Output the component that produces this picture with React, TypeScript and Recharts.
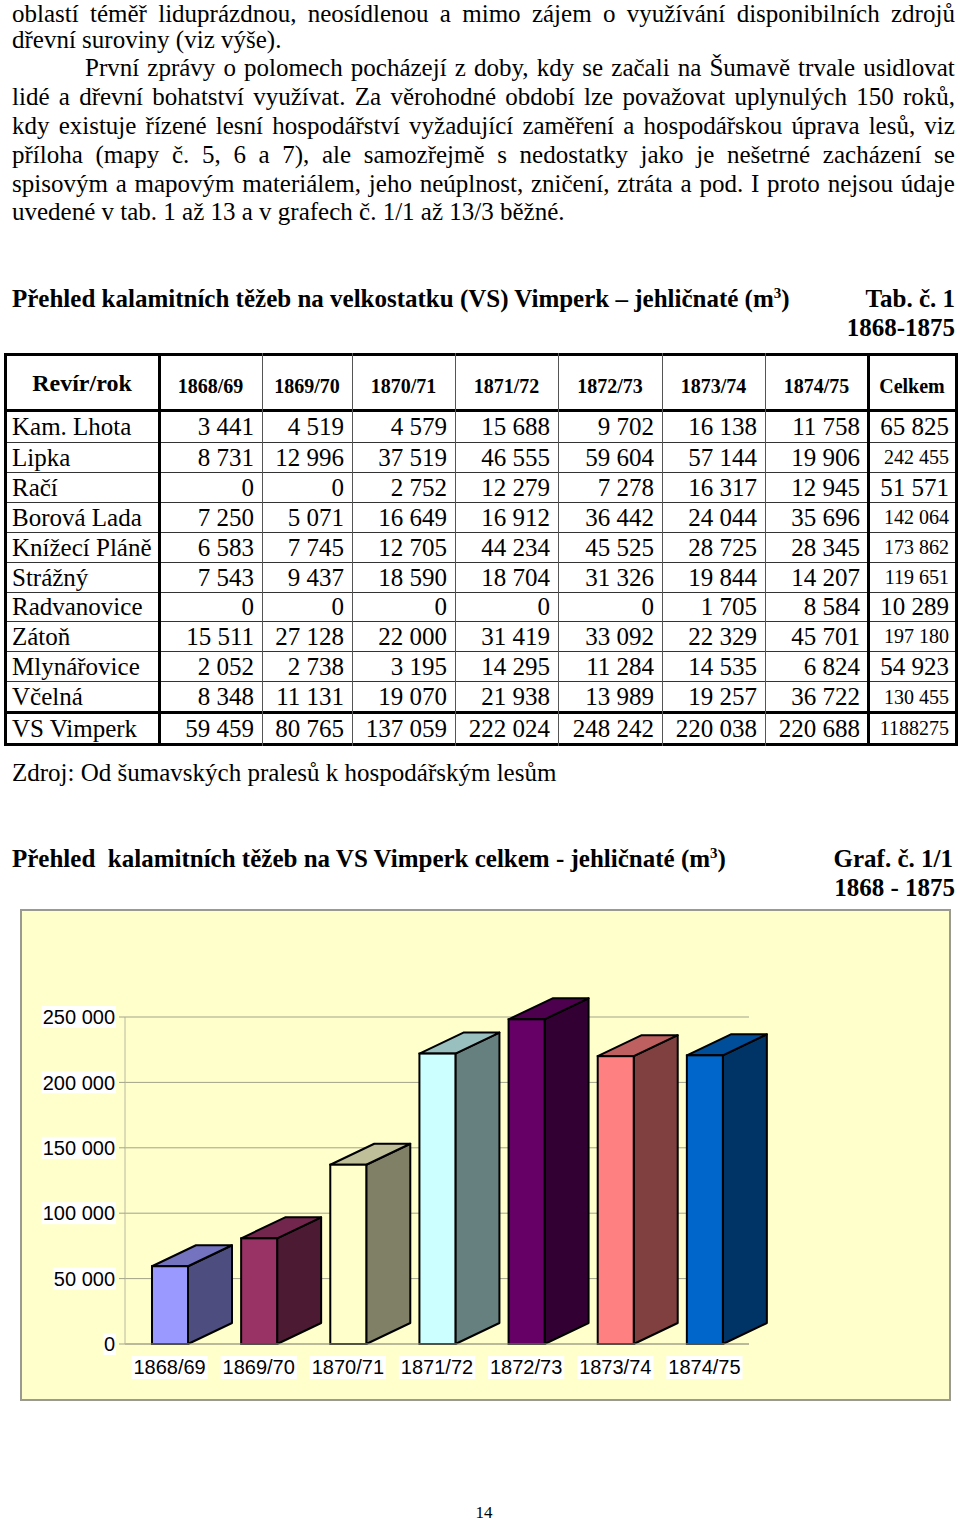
import React from 'react';
import { BarChart, Bar, XAxis, YAxis, CartesianGrid } from 'recharts';

// ---------- chart data ----------
const years = ['1868/69', '1869/70', '1870/71', '1871/72', '1872/73', '1873/74', '1874/75'];
const totals = [59459, 80765, 137059, 222024, 248242, 220038, 220688];
const yTicks = [0, 50000, 100000, 150000, 200000, 250000];
const frontColors = ['#9999FF', '#993366', '#FFFFCC', '#CCFFFF', '#660066', '#FF8080', '#0066CC'];
const sideColors = ['#4D4D80', '#4D1A33', '#808066', '#668080', '#330033', '#804040', '#003366'];
const topColors = ['#7373BF', '#73264D', '#BFBF99', '#99BFBF', '#4D004D', '#BF6060', '#004D99'];

// ---------- table data ----------
const revirs = ['Kam. Lhota', 'Lipka', 'Račí', 'Borová Lada', 'Knížecí Pláně', 'Strážný', 'Radvanovice', 'Zátoň', 'Mlynářovice', 'Včelná'];
const kamLhota = [3441, 4519, 4579, 15688, 9702, 16138, 11758];
const lipka = [8731, 12996, 37519, 46555, 59604, 57144, 19906];
const raci = [0, 0, 2752, 12279, 7278, 16317, 12945];
const borovaLada = [7250, 5071, 16649, 16912, 36442, 24044, 35696];
const knizeciPlane = [6583, 7745, 12705, 44234, 45525, 28725, 28345];
const strazny = [7543, 9437, 18590, 18704, 31326, 19844, 14207];
const radvanovice = [0, 0, 0, 0, 0, 1705, 8584];
const zaton = [15511, 27128, 22000, 31419, 33092, 22329, 45701];
const mlynarovice = [2052, 2738, 3195, 14295, 11284, 14535, 6824];
const vcelna = [8348, 11131, 19070, 21938, 13989, 19257, 36722];
const rowValues = [kamLhota, lipka, raci, borovaLada, knizeciPlane, strazny, radvanovice, zaton, mlynarovice, vcelna];
const celkem = [65825, 242455, 51571, 142064, 173862, 119651, 10289, 197180, 54923, 130455];
const celkemSmall = [false, true, false, true, true, true, false, true, false, true];
const celkemTotal = '1188275';
const totalLabel = 'VS Vimperk';

const paragraphLines = [
  'oblastí téměř liduprázdnou, neosídlenou a mimo zájem o využívání disponibilních zdrojů',
  'dřevní suroviny (viz výše).',
  'První zprávy o polomech pocházejí z doby, kdy se začali na Šumavě trvale usidlovat',
  'lidé a dřevní bohatství využívat. Za věrohodné období lze považovat uplynulých 150 roků,',
  'kdy existuje řízené lesní hospodářství vyžadující zaměření a hospodářskou úprava lesů, viz',
  'příloha (mapy č. 5, 6 a 7), ale samozřejmě s nedostatky jako je nešetrné zacházení se',
  'spisovým a mapovým materiálem, jeho neúplnost, zničení, ztráta a pod. I proto nejsou údaje',
  'uvedené v tab. 1 až 13 a v grafech č. 1/1 až 13/3 běžné.',
];
const lineJustified = [true, false, true, true, true, true, true, false];
const lineCenters = [14, 40, 68, 97, 126, 155, 184, 212];
const lineLefts = [12, 12, 85, 12, 12, 12, 12, 12];

const fmt = (n: number) => String(n).replace(/\B(?=(\d{3})+(?!\d))/g, ' ');

const SERIF = '"Liberation Serif", "Times New Roman", serif';
const SANS = '"Liberation Sans", Arial, sans-serif';

const TextLine = ({ text, top, left, right, justify, size = 25, bold = false }: any) => {
  const lh = 22;
  const style: React.CSSProperties = {
    position: 'absolute',
    top: top - 11,
    left,
    height: lh,
    lineHeight: lh + 'px',
    fontSize: size,
    fontFamily: SERIF,
    fontWeight: bold ? 'bold' : 'normal',
    whiteSpace: 'nowrap',
    color: '#000',
  };
  if (justify) {
    const words = text.split(' ');
    return (
      <div style={{ ...style, width: right - left, display: 'flex', justifyContent: 'space-between' }}>
        {words.map((w: string, i: number) => (
          <span key={i}>{w}</span>
        ))}
      </div>
    );
  }
  return <div style={style}>{text}</div>;
};

// ---------- table geometry ----------
const colX = [5, 159, 262, 352, 455, 558, 662, 765, 868, 956];
const rowY = [354, 410, 442, 472, 502, 532, 562, 592, 621, 651, 681, 712, 744];
const thickCols = [0, 1, 8, 9];
const thickRows = [0, 1, 11, 12];

const Table = () => {
  const els: any[] = [];
  rowY.forEach((y, i) => {
    const t = thickRows.includes(i) ? 3 : 1;
    els.push(
      <div key={'h' + i} style={{ position: 'absolute', left: colX[0] - 1, top: y - t / 2, width: colX[9] - colX[0] + 3, height: t, background: thickRows.includes(i) ? '#000' : '#333' }} />
    );
  });
  colX.forEach((x, i) => {
    const t = thickCols.includes(i) ? 3 : 1;
    els.push(
      <div key={'v' + i} style={{ position: 'absolute', left: x - t / 2, top: rowY[0] - 1, width: t, height: rowY[12] - rowY[0] + 3, background: thickCols.includes(i) ? '#000' : '#555' }} />
    );
  });
  const cell = (key: string, c: number, r: number, content: any, opts: any = {}) => {
    const x0 = colX[c], x1 = colX[c + 1];
    const y0 = rowY[r], y1 = rowY[r + 1];
    els.push(
      <div
        key={key}
        style={{
          position: 'absolute',
          left: x0 + 2,
          width: x1 - x0 - 4,
          top: y0 + (opts.dy || 0),
          height: y1 - y0,
          display: 'flex',
          alignItems: 'center',
          justifyContent: opts.align || 'flex-end',
          paddingLeft: opts.pl || 0,
          paddingRight: opts.pr ?? 6,
          boxSizing: 'border-box',
          fontFamily: SERIF,
          fontSize: opts.size || 25,
          fontWeight: opts.bold ? 'bold' : 'normal',
          whiteSpace: 'nowrap',
          lineHeight: 1,
        }}
      >
        {content}
      </div>
    );
  };
  cell('hh', 0, 0, 'Revír/rok', { align: 'center', bold: true, size: 24, pr: 0, dy: 1 });
  years.forEach((y, i) => cell('hy' + i, i + 1, 0, y, { align: 'center', bold: true, size: 20, pr: 0, dy: 4 }));
  cell('hc', 8, 0, 'Celkem', { align: 'center', bold: true, size: 20, pr: 0, dy: 4 });
  revirs.forEach((name, r) => {
    cell('n' + r, 0, r + 1, name, { align: 'flex-start', pl: 5, pr: 0 });
    rowValues[r].forEach((v, c) => cell('v' + r + '-' + c, c + 1, r + 1, fmt(v)));
    cell('c' + r, 8, r + 1, fmt(celkem[r]), { size: celkemSmall[r] ? 20 : 25, pr: 5 });
  });
  cell('tn', 0, 11, totalLabel, { align: 'flex-start', pl: 5, pr: 0 });
  totals.forEach((v, c) => cell('tv' + c, c + 1, 11, fmt(v)));
  cell('tc', 8, 11, celkemTotal, { size: 20, pr: 5 });
  return <>{els}</>;
};

// ---------- chart pieces ----------
const sansWidth = (s: string, size: number) => {
  let w = 0;
  for (const ch of s) w += ch === ' ' || ch === '/' ? 0.278 : 0.556;
  return w * size;
};

const YTick = (props: any) => {
  const { x, y, payload } = props;
  const label = fmt(payload.value);
  const w = sansWidth(label, 20) + 2;
  return (
    <g>
      <rect x={x - w + 1} y={y - 11} width={w} height={22} fill="#fff" />
      <text x={x} y={y} dy="0.36em" textAnchor="end" fontFamily={SANS} fontSize={20} fill="#000">
        {label}
      </text>
    </g>
  );
};

const XTick = (props: any) => {
  const { x, y, payload } = props;
  const label = payload.value;
  const w = sansWidth(label, 20) + 4;
  return (
    <g>
      <rect x={x - w / 2} y={y + 10} width={w} height={23} fill="#fff" />
      <text x={x} y={y + 21} dy="0.36em" textAnchor="middle" fontFamily={SANS} fontSize={20} fill="#000">
        {label}
      </text>
    </g>
  );
};

const Bar3D = (props: any) => {
  const { x, y, width, height, index } = props;
  const dx = 44;
  const dy = 21;
  const side = `${x + width},${y} ${x + width + dx},${y - dy} ${x + width + dx},${y + height - dy} ${x + width},${y + height}`;
  const top = `${x},${y} ${x + dx},${y - dy} ${x + width + dx},${y - dy} ${x + width},${y}`;
  return (
    <g>
      <polygon points={side} fill={sideColors[index]} stroke="#000" strokeWidth={2} strokeLinejoin="round" />
      <polygon points={top} fill={topColors[index]} stroke="#000" strokeWidth={2} strokeLinejoin="round" />
      <rect x={x} y={y} width={width} height={height} fill={frontColors[index]} stroke="#000" strokeWidth={2} />
    </g>
  );
};

const chartData = years.map((year, i) => ({ year, value: totals[i] }));

export default function App() {
  return (
    <div style={{ position: 'absolute', left: 0, top: 0, width: 960, height: 1524, background: '#fff', overflow: 'hidden' }}>
      {paragraphLines.map((t, i) => (
        <TextLine key={i} text={t} top={lineCenters[i]} left={lineLefts[i]} right={955} justify={lineJustified[i]} />
      ))}

      <div style={{ position: 'absolute', left: 12, top: 284, lineHeight: '29px', height: 29, fontFamily: SERIF, fontSize: 25, fontWeight: 'bold', whiteSpace: 'nowrap' }}>
        Přehled kalamitních těžeb na velkostatku (VS) Vimperk – jehličnaté (m<sup style={{ fontSize: '0.6em', lineHeight: 0 }}>3</sup>)
      </div>
      <div style={{ position: 'absolute', right: 5, top: 284, lineHeight: '29px', fontFamily: SERIF, fontSize: 25, fontWeight: 'bold', whiteSpace: 'nowrap' }}>
        Tab. č. 1
      </div>
      <div style={{ position: 'absolute', right: 5, top: 313, lineHeight: '29px', fontFamily: SERIF, fontSize: 25, fontWeight: 'bold', whiteSpace: 'nowrap' }}>
        1868-1875
      </div>

      <Table />

      <div style={{ position: 'absolute', left: 12, top: 758, lineHeight: '29px', fontFamily: SERIF, fontSize: 25, whiteSpace: 'nowrap' }}>
        Zdroj: Od šumavských pralesů k hospodářským lesům
      </div>

      <div style={{ position: 'absolute', left: 12, top: 844, lineHeight: '29px', fontFamily: SERIF, fontSize: 25, fontWeight: 'bold', whiteSpace: 'pre' }}>
        Přehled  kalamitních těžeb na VS Vimperk celkem - jehličnaté (m<sup style={{ fontSize: '0.6em', lineHeight: 0 }}>3</sup>)
      </div>
      <div style={{ position: 'absolute', right: 7, top: 844, lineHeight: '29px', fontFamily: SERIF, fontSize: 25, fontWeight: 'bold', whiteSpace: 'nowrap' }}>
        Graf. č. 1/1
      </div>
      <div style={{ position: 'absolute', right: 5, top: 873, lineHeight: '29px', fontFamily: SERIF, fontSize: 25, fontWeight: 'bold', whiteSpace: 'nowrap' }}>
        1868 - 1875
      </div>

      <div style={{ position: 'absolute', left: 20, top: 909, width: 931, height: 492, boxSizing: 'border-box', border: '2px solid #9a9a90', background: '#FFFFCC' }}>
        <BarChart width={927} height={488} data={chartData} margin={{ top: 106, right: 200, bottom: 0, left: 0 }} barCategoryGap={0}>
          <CartesianGrid vertical={false} stroke="#a3a38a" strokeWidth={1} />
          <XAxis dataKey="year" height={55} tickSize={0} tickLine={false} axisLine={{ stroke: '#a3a38a' }} tick={<XTick />} interval={0} />
          <YAxis
            width={103}
            domain={[0, 250000]}
            ticks={yTicks}
            tickSize={6}
            tickMargin={4}
            axisLine={{ stroke: '#b8b8a0' }}
            tickLine={{ stroke: '#a3a38a' }}
            tick={<YTick />}
            interval={0}
          />
          <Bar dataKey="value" barSize={36} isAnimationActive={false} shape={<Bar3D />} />
        </BarChart>
      </div>

      <div style={{ position: 'absolute', left: 0, width: 968, top: 1503, height: 20, textAlign: 'center', fontFamily: SERIF, fontSize: 17, lineHeight: '20px' }}>
        14
      </div>
    </div>
  );
}
